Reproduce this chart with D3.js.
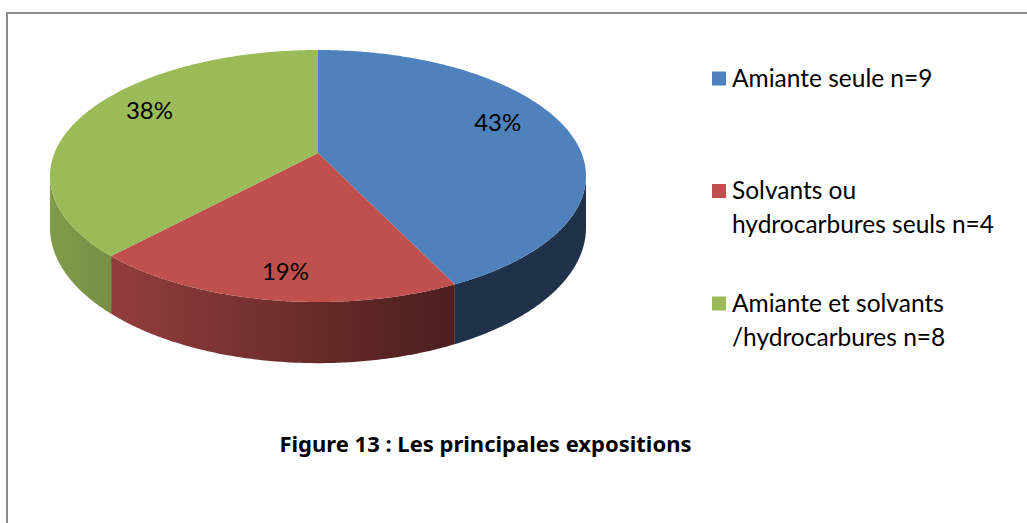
<!DOCTYPE html>
<html lang="fr">
	<head>
		<meta charset="utf-8">
		<title>Figure 13</title>
		<script type="text/javascript" src="https://cdn.jsdelivr.net/npm/d3@7/dist/d3.min.js"></script>
		<style type="text/css">
			body {
				margin: 0;
				background: #ffffff;
			}
			text {
				font-family: Lato, "Open Sans", sans-serif;
				fill: #000000;
			}
			text.caption {
				font-family: "Noto Sans", "DejaVu Sans", sans-serif;
			}
		</style>
	</head>

	<body>
		<script type="text/javascript">

		//data
		var categories = ["Amiante seule n=9", "Solvants ou hydrocarbures seuls n=4", "Amiante et solvants /hydrocarbures n=8"];
		var legendLines = [["Amiante seule n=9"], ["Solvants ou", "hydrocarbures seuls n=4"], ["Amiante et solvants", "/hydrocarbures n=8"]];
		var counts = [9, 4, 8];
		var colors = ["#4F81BD", "#C0504D", "#9BBB59"];
		var title = "Figure 13 : Les principales expositions";

		var w = 1027;
		var h = 523;

		//pie geometry (perspective ellipse)
		var cx = 318;   //apex x
		var cy = 153;   //apex y
		var A = 263.5;  //horizontal radius factor
		var B = 121.8;  //vertical radius factor
		var p = 0.1825; //perspective
		var depth = 50; //thickness

		var svg = d3.select("body")
					.append("svg")
					.attr("width", w)
					.attr("height", h);

		svg.append("rect")
			.attr("width", w)
			.attr("height", h)
			.attr("fill", "#ffffff");

		//frame border (top and left)
		svg.append("path")
			.attr("d", "M7,523 L7,13 L1027,13")
			.attr("fill", "none")
			.attr("stroke", "#8c8c8c")
			.attr("stroke-width", 2);

		//project a point of the pie disc: angle from 12 o'clock clockwise, r in 0..1, dz = 0 top, 1 bottom
		var proj = function(theta, r, dz) {
			var den = 1 + p * r * Math.cos(theta);
			return [cx + A * r * Math.sin(theta) / den,
					cy - B * r * Math.cos(theta) / den + dz * depth / den];
		};

		var arcPoints = function(a0, a1, dz) {
			var pts = [];
			var n = Math.max(2, Math.ceil(Math.abs(a1 - a0) / (Math.PI / 360)));
			for (var i = 0; i <= n; i++) {
				pts.push(proj(a0 + (a1 - a0) * i / n, 1, dz));
			}
			return pts;
		};

		var pie = d3.pie().sort(null).value(function(d) { return d; });
		var arcs = pie(counts);
		var total = d3.sum(counts);

		//the front of the side is visible between these angles
		var vis0 = Math.acos(-p);
		var vis1 = 2 * Math.PI - vis0;

		var line = d3.line();

		//shading of the side along x (lighter on the left)
		var defs = svg.append("defs");
		var shade = d3.scaleLinear().domain([0, 0.75, 1]).range([0.83, 0.39, 0.39]);
		colors.forEach(function(c, i) {
			var g = defs.append("linearGradient")
				.attr("id", "side" + i)
				.attr("gradientUnits", "userSpaceOnUse")
				.attr("x1", cx - A / Math.sqrt(1 - p * p)).attr("y1", 0)
				.attr("x2", cx + A / Math.sqrt(1 - p * p)).attr("y2", 0);
			[0, 0.25, 0.5, 0.75, 1].forEach(function(t) {
				var base = d3.rgb(c);
				var f = shade(t);
				g.append("stop")
					.attr("offset", t)
					.attr("stop-color", d3.rgb(base.r * f, base.g * f, base.b * f).formatHex());
			});
		});

		//sides
		svg.selectAll("path.side")
			.data(arcs)
			.enter()
			.append("path")
			.attr("class", "side")
			.attr("d", function(d) {
				var lo = Math.max(d.startAngle, vis0);
				var hi = Math.min(d.endAngle, vis1);
				if (lo >= hi) return null;
				var pts = arcPoints(lo, hi, 0).concat(arcPoints(hi, lo, 1));
				return line(pts) + "Z";
			})
			.attr("fill", function(d, i) { return "url(#side" + i + ")"; });

		//top faces
		svg.selectAll("path.top")
			.data(arcs)
			.enter()
			.append("path")
			.attr("class", "top")
			.attr("d", function(d) {
				var pts = [[cx, cy]].concat(arcPoints(d.startAngle, d.endAngle, 0));
				return line(pts) + "Z";
			})
			.attr("fill", function(d, i) { return colors[i]; });

		//percent labels
		svg.selectAll("text.pct")
			.data(arcs)
			.enter()
			.append("text")
			.attr("class", "pct")
			.text(function(d) { return Math.round(d.value / total * 100) + "%"; })
			.attr("x", function(d) {
				return proj((d.startAngle + d.endAngle) / 2, 0.72, 0)[0];
			})
			.attr("y", function(d) {
				var mid = (d.startAngle + d.endAngle) / 2;
				var pt = proj(mid, 0.72, 0);
				var side = (mid > vis0 && mid < vis1) ? depth / (1 + p * Math.cos(mid)) : 0;
				return pt[1] + side / 2 - 12;
			})
			.attr("dy", "0.36em")
			.attr("text-anchor", "middle")
			.attr("font-size", "24px");

		//legend
		var legendY = d3.scaleLinear().domain([0, 1]).range([86.5, 199]);
		var legend = svg.selectAll("g.legend")
			.data(legendLines)
			.enter()
			.append("g")
			.attr("class", "legend")
			.attr("transform", function(d, i) { return "translate(712," + legendY(i) + ")"; });

		legend.append("rect")
			.attr("x", 0)
			.attr("y", -15)
			.attr("width", 14)
			.attr("height", 14)
			.attr("fill", function(d, i) { return colors[i]; });

		legend.selectAll("text")
			.data(function(d) { return d; })
			.enter()
			.append("text")
			.attr("x", 20)
			.attr("y", function(d, j) { return j * 34; })
			.attr("font-size", "24.5px")
			.text(function(d) { return d; });

		//caption, sized so it spans the same width as in the original
		var caption = svg.append("text")
			.attr("class", "caption")
			.attr("x", 485.5)
			.attr("y", 452)
			.attr("text-anchor", "middle")
			.attr("font-size", "19px")
			.attr("font-weight", "bold")
			.text(title);
		var capW = caption.node().getComputedTextLength();
		if (capW > 0) {
			caption.attr("font-size", Math.min(22, 19 * 435 / capW) + "px");
		}

		</script>
	</body>
</html>
